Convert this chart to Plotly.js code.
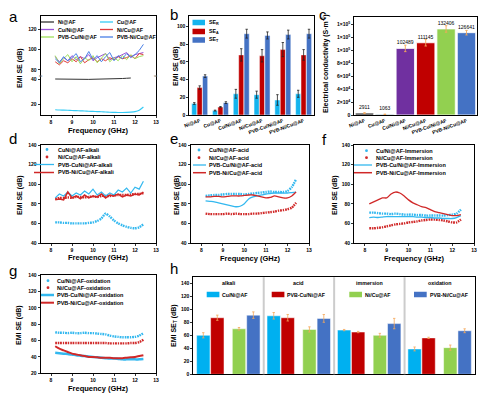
<!DOCTYPE html>
<html><head><meta charset="utf-8">
<script src="https://cdn.plot.ly/plotly-3.0.1.min.js"></script>
<style>html,body{margin:0;padding:0;background:#fff;}#chart{width:500px;height:396px;}</style>
</head><body><div id="chart"></div>
<script>
// ================= DATA =================
const freq   = [8.2,8.4,8.6,8.8,9.0,9.2,9.4,9.6,9.8,10.0,10.2,10.4,10.6,10.8,11.0,11.2,11.4,11.6,11.8,12.0,12.2,12.4];
const freqNi = [8.2,8.4,8.6,8.8,9.0,9.2,9.4,9.6,9.8,10.0,10.2,10.4,10.6,10.8,11.0,11.2,11.4,11.6,11.8];

// panel a
const aNames   = ['Ni@AF','Cu@AF','Cu/Ni@AF','Ni/Cu@AF','PVB-Cu/Ni@AF','PVB-Ni/Cu@AF'];
const aNi      = [40.2,40.1,40.0,40.0,40.0,39.9,39.9,39.9,39.9,40.0,40.0,40.0,40.1,40.2,40.3,40.4,40.6,40.8,41.0];
const aCu      = [15.6,15.4,15.3,15.2,15.0,14.9,14.7,14.6,14.4,14.3,14.1,14.0,13.8,13.6,13.5,13.4,13.4,13.5,13.7,14.1,15.2,17.8];
const aCuNi    = [93,88,92,89,94,90,93,91,95,89,92,94,96,90,92,93,95,97,93,95,96,97];
const aNiCu    = [88,85,89,87,91,88,93,87,90,92,88,91,89,92,90,93,91,92,94,91,96,95];
const aPvbCuNi = [94,86,91,95,88,93,86,92,89,94,87,91,96,88,92,89,94,90,95,91,93,94];
const aPvbNiCu = [91,87,93,89,92,96,88,91,98,90,94,88,93,97,89,94,91,96,92,95,99,105];

// panel b
const bCats   = ['Ni@AF','Cu@AF','Cu/Ni@AF','Ni/Cu@AF','PVB-Cu/Ni@AF','PVB-Ni/Cu@AF'];
const bSER    = [13,5,24,23,17,24];
const bSERerr = [1,0.5,5,4,6,4];
const bSEA    = [31,9,68,67,74,68];
const bSEAerr = [2,0.6,7,7,8,6];
const bSET    = [44,14,92,90,91,92];
const bSETerr = [1.5,1,5,4,5,5];

// panel c
const cCats = ['Ni@AF','Cu@AF','Cu/Ni@AF','Ni/Cu@AF','PVB-Cu/Ni@AF','PVB-Ni/Cu@AF'];
const cVals = [2911,1063,102489,111145,132406,126641];
const cErr  = [700,300,5000,5000,5000,3500];
const cTickVals = [0,20000,40000,60000,80000,100000,120000,140000];
const cTickText = ['0','2×10<sup>4</sup>','4×10<sup>4</sup>','6×10<sup>4</sup>','8×10<sup>4</sup>','1×10<sup>5</sup>','1×10<sup>5</sup>','1×10<sup>5</sup>'];

// panel d (alkali)
const dCuNi    = [61,61,60.5,60.5,60,60,60,60,60.5,61,62.5,65,70,67,63,60,58,56.5,55.5,55,56,59];
const dNiCu    = [85,86,86,86.5,86,87,87,86.5,87,87.5,87,88,88,88,88.5,89,89,89,89.5,90,90,91];
const dPvbCuNi = [86,90,88,92,88,91,89,93,90,95,89,92,88,91,89,94,92,96,91,97,95,103];
const dPvbNiCu = [84,85,84,92,86,88,85,89,86,88,87,90,86,89,88,90,87,89,88,90,89,92];

// panel e (acid)
const eCuNi    = [88,88.5,89,89,89.5,90,90,90,90,89.5,90,90.5,91,91.5,92,92.5,92,92,92,93,97,105];
const eNiCu    = [70,69.5,69.5,69.5,69.5,70,69.5,70,69.5,69.5,69.5,70,70,70.5,71,71.5,72,73,73.5,74.5,76,81];
const ePvbCuNi = [83,82.5,82,81,80,79,78,77,77.5,80,85,87,88,89,90,90.5,91,91,91,91,91.5,92];
const ePvbNiCu = [87,87,87.5,87.5,87,87.5,88,88,88,88.5,89,89,88,87,86,86.5,88,87,86,86,88,92];

// panel f (immersion)
const fCuNi    = [71,71,70.5,70,70,69.5,70,69.5,69,69,69,68.5,68.5,68,68,68,68,68,68.5,69,70,74];
const fNiCu    = [55,55,55.5,56,57,58,59,59.5,60,61,61.5,62,63,63.5,64,64,63.5,63,62,61,61,64];
const fPvbCuNi = [66,66.5,66,66.5,67,67,67,67,67,67,67,66.5,66.5,66,66,65.5,65.5,65,65,65,66,68];
const fPvbNiCu = [80,82,84,86,86,90,92,91,88,84,81,79,77,76,74,72,71,70,69,68,68,69];

// panel g (oxidation)
const gCuNi    = [70,69.5,69.5,69,69.5,69,69,69.5,69,69,68.5,68,67.5,66,65,64.5,64,64,64,64.5,66,69];
const gNiCu    = [57,57,57,57,57,57,57,57,57,57,57,57,57,56.5,56.5,56.5,56.5,56.5,57,57,58,61];
const gPvbCuNi = [45,44.5,44,43.5,43,42,41.5,41,40.5,40,39.5,39,38.5,38,38,37.5,37,37,37,37,37,37.5];
const gPvbNiCu = [53,50,48,46,44,43,42,41,40,40,39.5,39,39,39,38.5,38.5,38.5,39,39.5,40,41,42];

// panel h
const hGroups      = ['alkali','acid','immersion','oxidation'];
const hNames       = ['Cu/Ni@AF','PVB-Cu/Ni@AF','Ni/Cu@AF','PVB-Ni/Cu@AF'];
const hCuNi        = [60,90,68,39];
const hCuNiErr     = [4,5,1,3];
const hPvbCuNi     = [87,87,65,56];
const hPvbCuNiErr  = [4,5,1,1];
const hNiCu        = [70,69,60,41];
const hNiCuErr     = [2,4,3,4];
const hPvbNiCu     = [91,86,78,67];
const hPvbNiCuErr  = [5,6,8,3];

// ================= STYLE / LAYOUT =================
const W=500,H=396;
const fx=p=>p/W, fy=p=>1-p/H;
const FONT='Liberation Sans, Arial, sans-serif';
const tf={family:FONT,size:5,color:'#000',weight:'bold'};
const CYAN='#33b8ef', RED='#d02828';
const BEAD='1.6px,0.9px';
function ax(extra){return Object.assign({showline:true,linecolor:'#000',linewidth:1,mirror:true,ticks:'outside',ticklen:2,tickwidth:0.8,tickcolor:'#000',showgrid:false,zeroline:false,tickfont:tf,fixedrange:true},extra);}
const fTicks=[8,9,10,11,12,13];

const traces=[];
function line(x,y,xa,ya,color,width,dash,shape){traces.push({type:'scatter',mode:'lines',x:x,y:y,xaxis:xa,yaxis:ya,line:{color:color,width:width,dash:dash||'solid',shape:shape||'linear',smoothing:0.6},showlegend:false,hoverinfo:'skip'});}

// a
line(freqNi,aNi,'x','y','#333333',1);
line(freq,aCu,'x','y','#35cbf5',1.2,'solid','spline');
line(freq,aCuNi,'x2','y2','#9a52d6',1);
line(freq,aNiCu,'x2','y2','#e03a3a',1);
line(freq,aPvbCuNi,'x2','y2','#9ee05a',1);
line(freq,aPvbNiCu,'x2','y2','#4a7fe6',1);

// bars
function bar(x,y,err,xa,ya,color,offset,width,errColor){
  traces.push({type:'bar',x:x,y:y,xaxis:xa,yaxis:ya,marker:{color:color,line:{color:'#fff',width:0.5}},offset:offset,width:width,showlegend:false,hoverinfo:'skip',
    error_y:{type:'data',array:err,visible:true,color:errColor,thickness:0.8,width:1.2}});
}
bar(bCats,bSER,bSERerr,'x3','y3','#14b4ee',-0.385,0.25,'#222');
bar(bCats,bSEA,bSEAerr,'x3','y3','#c00000',-0.125,0.25,'#222');
bar(bCats,bSET,bSETerr,'x3','y3','#4472c4',0.135,0.25,'#222');

// c
traces.push({type:'bar',x:cCats,y:cVals,xaxis:'x4',yaxis:'y4',width:0.9,
  marker:{color:['#1a1a1a','#1f5f78','#7030a0','#c00000','#92d050','#4472c4'],line:{color:'#fff',width:0.8}},
  error_y:{type:'data',array:cErr,visible:true,color:'#f5a85a',thickness:0.9,width:1.2},
  text:cVals.map(String),textposition:'outside',textfont:{family:FONT,size:5,color:'#000'},cliponaxis:false,showlegend:false,hoverinfo:'skip'});

// d
line(freq,dCuNi,'x5','y5',CYAN,2.4,BEAD,'spline');
line(freq,dNiCu,'x5','y5',RED,2.4,BEAD,'spline');
line(freq,dPvbCuNi,'x5','y5',CYAN,1.2);
line(freq,dPvbNiCu,'x5','y5',RED,1.5);
// e
line(freq,eCuNi,'x6','y6',CYAN,2.4,BEAD,'spline');
line(freq,eNiCu,'x6','y6',RED,2.4,BEAD,'spline');
line(freq,ePvbCuNi,'x6','y6',CYAN,1.3,'solid','spline');
line(freq,ePvbNiCu,'x6','y6',RED,1.3,'solid','spline');
// f
line(freq,fCuNi,'x7','y7',CYAN,2.4,BEAD,'spline');
line(freq,fNiCu,'x7','y7',RED,2.4,BEAD,'spline');
line(freq,fPvbCuNi,'x7','y7',CYAN,1.3,'solid','spline');
line(freq,fPvbNiCu,'x7','y7',RED,1.3,'solid','spline');
// g
line(freq,gCuNi,'x8','y8',CYAN,2.4,BEAD,'spline');
line(freq,gNiCu,'x8','y8',RED,2.4,BEAD,'spline');
line(freq,gPvbCuNi,'x8','y8',CYAN,2.5,'solid','spline');
line(freq,gPvbNiCu,'x8','y8',RED,2,'solid','spline');

// h
const hCols=['#00b0f0','#c00000','#92d050','#4472c4'];
bar(hGroups,hCuNi,hCuNiErr,'x9','y9',hCols[0],-0.453,0.19,'#f5a85a');
bar(hGroups,hPvbCuNi,hPvbCuNiErr,'x9','y9',hCols[1],-0.254,0.19,'#f5a85a');
bar(hGroups,hNiCu,hNiCuErr,'x9','y9',hCols[2],0.054,0.19,'#f5a85a');
bar(hGroups,hPvbNiCu,hPvbNiCuErr,'x9','y9',hCols[3],0.258,0.19,'#f5a85a');

// ---------- annotations / shapes ----------
const ann=[], shapes=[];
function txt(x,y,t,o){ann.push(Object.assign({xref:'paper',yref:'paper',x:fx(x),y:fy(y),text:t,showarrow:false,xanchor:'left',yanchor:'middle',font:{family:FONT,size:5.5,color:'#000',weight:'bold'}},o||{}));}
function lg(x0,x1,y,color,width,dash){shapes.push({type:'line',xref:'paper',yref:'paper',x0:fx(x0),x1:fx(x1),y0:fy(y),y1:fy(y),line:{color:color,width:width,dash:dash||'solid'}});}
function dot(x,y,color,r){shapes.push({type:'circle',xref:'paper',yref:'paper',x0:fx(x-r),x1:fx(x+r),y0:fy(y+r),y1:fy(y-r),fillcolor:color,line:{width:0}});}
function rect(x0,x1,y,h,color){shapes.push({type:'rect',xref:'paper',yref:'paper',x0:fx(x0),x1:fx(x1),y0:fy(y+h/2),y1:fy(y-h/2),fillcolor:color,line:{width:0}});}
const big={family:FONT,size:15,color:'#000'};
const axT={family:FONT,size:7.5,color:'#000',weight:'bold'};
const ayT={family:FONT,size:7,color:'#000',weight:'bold'};
// panel letters
[['a',13,16],['b',174,14],['c',323,14],['d',13,138],['e',174,138],['f',324,139],['g',13,270],['h',174,268]].forEach(p=>txt(p[1],p[2],p[0],{xanchor:'center',font:big}));
// axis titles
[[98,130],[250,258],[414,258],[98,257],[98,388]].forEach(p=>txt(p[0],p[1],'Frequency (GHz)',{xanchor:'center',font:axT}));
[[20,68,'EMI SE (dB)'],[176,66,'EMI SE (dB)'],[20,195,'EMI SE (dB)'],[177,195,'EMI SE (dB)'],[335,195,'EMI SE (dB)'],[19,325,'EMI SE (dB)'],[174,326,'EMI SE<sub>T</sub> (dB)'],[325,64,'Electrical conductivity (S·m<sup>-1</sup>)']]
  .forEach(p=>txt(p[0],p[1],p[2],{xanchor:'center',textangle:-90,font:ayT}));

// panel a legend
const aCols=['#333333','#35cbf5','#9a52d6','#e03a3a','#9ee05a','#4a7fe6'];
[[0,41,22],[1,100,22],[2,41,29.5],[3,100,29.5],[4,41,37],[5,100,37]].forEach(p=>{lg(p[1],p[1]+13,p[2],aCols[p[0]],1.3);txt(p[1]+14.5,p[2],aNames[p[0]],{font:{family:FONT,size:5.3,color:'#000',weight:'bold'}});});
// break marks
txt(40.5,76,'≈',{xanchor:'center',font:{family:FONT,size:6,color:'#666'}});
txt(156,76,'≈',{xanchor:'center',font:{family:FONT,size:6,color:'#666'}});

// panel b legend
[['SE<sub>R</sub>','#14b4ee',22.5],['SE<sub>A</sub>','#c00000',31.5],['SE<sub>T</sub>','#4472c4',40]].forEach(p=>{rect(192.5,205,p[2],5.5,p[1]);txt(207,p[2],p[0],{font:{family:FONT,size:5.3,color:'#000',weight:'bold'}});});

// panels d-g legends
function lineLegend(x,rows,labels,thick){
  dot(x.dot,rows[0],CYAN,1.4);txt(x.txt,rows[0],labels[0]);
  dot(x.dot,rows[1],RED,1.4);txt(x.txt,rows[1],labels[1]);
  lg(x.l0,x.l1,rows[2],CYAN,thick?2.5:1.3);txt(x.txt,rows[2],labels[2]);
  lg(x.l0,x.l1,rows[3],RED,thick?2:1.5);txt(x.txt,rows[3],labels[3]);
}
lineLegend({dot:47,txt:56,l0:34,l1:54},[149.5,157,164.5,172.5],['CuNi@AF-alkali','Ni/Cu@AF-alkali','PVB-CuNi@AF-alkali','PVB-Ni/Cu@AF-alkali']);
lineLegend({dot:199,txt:207,l0:193,l1:206},[150,157.7,165,172.7],['Cu/Ni@AF-acid','Ni/Cu@AF-acid','PVB-Cu/Ni@AF-acid','PVB-Ni/Cu@AF-acid']);
lineLegend({dot:366.5,txt:373.5,l0:354,l1:372},[150.7,157.7,165,172.7],['Cu/Ni@AF-Immersion','Ni/Cu@AF-Immersion','PVB-Cu/Ni@AF-Immersion','PVB-Ni/Cu@AF-Immersion']);
lineLegend({dot:48,txt:55,l0:41,l1:54},[280.7,287.7,295,302.7],['Cu/Ni@AF-oxidation','Ni/Cu@AF-oxidation','PVB-Cu/Ni@AF-oxidation','PVB-Ni/Cu@AF-oxidation'],true);

// panel h legend + group labels + separators
[[206.7,0],[271.7,1],[349.3,2],[414,3]].forEach(p=>{rect(p[0],p[0]+12.7,294.5,5.5,hCols[p[1]]);txt(p[0]+13.5,294.5,hNames[p[1]],{font:{family:FONT,size:5.2,color:'#000',weight:'bold'}});});
hGroups.forEach((g,i)=>ann.push({xref:'x9',yref:'paper',x:i,y:fy(282.7),text:g,showarrow:false,xanchor:'center',yanchor:'middle',font:{family:FONT,size:5.3,color:'#000',weight:'bold'}}));
[0.5,1.5,2.5].forEach(v=>shapes.push({type:'line',xref:'x9',yref:'paper',x0:v,x1:v,y0:fy(374.3),y1:fy(277.3),line:{color:'#cccccc',width:2}}));

const layout={
  width:W,height:H,margin:{l:0,r:0,t:0,b:0},paper_bgcolor:'#fff',plot_bgcolor:'#fff',showlegend:false,
  font:{family:FONT,color:'#000'},barmode:'overlay',
  xaxis: ax({domain:[fx(40.5),fx(156)],anchor:'y',range:[7.5,13],tickvals:fTicks,mirror:false}),
  yaxis: ax({domain:[fy(115),fy(76)],anchor:'x',range:[11.4,42.6],tickvals:[20,40]}),
  xaxis2:ax({domain:[fx(40.5),fx(156)],anchor:'y2',range:[7.5,13],side:'top',showticklabels:false,ticks:'',mirror:false}),
  yaxis2:ax({domain:[fy(76),fy(16)],anchor:'x2',range:[74.1,132.7],tickvals:[80,100,120]}),
  xaxis3:ax({domain:[fx(189.3),fx(314)],anchor:'y3',type:'category',range:[-0.5,5.5],tickangle:-20,ticks:'',tickfont:{family:FONT,size:5,color:'#000',weight:'bold'}}),
  yaxis3:ax({domain:[fy(115),fy(16)],anchor:'x3',range:[0,112],tickvals:[0,20,40,60,80,100]}),
  xaxis4:ax({domain:[fx(354.3),fx(476.7)],anchor:'y4',type:'category',range:[-0.5,5.5],tickangle:-20,ticks:'',tickfont:{family:FONT,size:5,color:'#000',weight:'bold'}}),
  yaxis4:ax({domain:[fy(115),fy(17.3)],anchor:'x4',range:[0,150300],tickvals:cTickVals,ticktext:cTickText,tickfont:{family:FONT,size:5,color:'#000',weight:'bold'}}),
  xaxis5:ax({domain:[fx(40.5),fx(156)],anchor:'y5',range:[7.5,13],tickvals:fTicks}),
  yaxis5:ax({domain:[fy(243),fy(145)],anchor:'x5',range:[40,140],dtick:20}),
  xaxis6:ax({domain:[fx(190.5),fx(309)],anchor:'y6',range:[7.5,13],tickvals:fTicks}),
  yaxis6:ax({domain:[fy(243),fy(145)],anchor:'x6',range:[40,140],dtick:20}),
  xaxis7:ax({domain:[fx(354),fx(474)],anchor:'y7',range:[7.5,13],tickvals:fTicks}),
  yaxis7:ax({domain:[fy(243),fy(145)],anchor:'x7',range:[40,140],dtick:20}),
  xaxis8:ax({domain:[fx(40.5),fx(156)],anchor:'y8',range:[7.5,13],tickvals:fTicks}),
  yaxis8:ax({domain:[fy(373.3),fy(275)],anchor:'x8',range:[20,140],dtick:20}),
  xaxis9:ax({domain:[fx(193.3),fx(475)],anchor:'y9',type:'category',range:[-0.5,3.5],showticklabels:false,ticks:''}),
  yaxis9:ax({domain:[fy(374.3),fy(277.3)],anchor:'x9',range:[0,149.2],tickvals:[0,20,40,60,80,100,120,140]}),
  annotations:ann,shapes:shapes
};
Plotly.newPlot('chart',traces,layout,{staticPlot:true});
</script></body></html>
